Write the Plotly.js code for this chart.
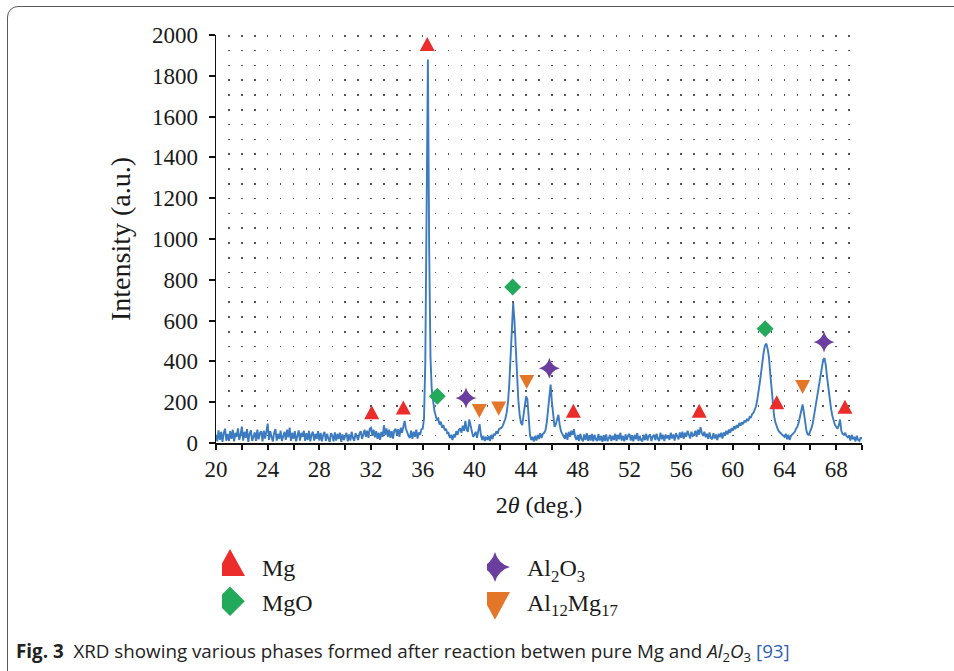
<!DOCTYPE html>
<html>
<head>
<meta charset="utf-8">
<script src="https://cdn.plot.ly/plotly-3.0.1.min.js"></script>
<style>
  html, body { margin: 0; padding: 0; background: #ffffff; }
  #chart { position: absolute; left: 0; top: 0; width: 954px; height: 671px; }
  #frame { position: absolute; left: 7px; top: 6px; width: 1000px; height: 720px;
           border: 1.5px solid #5a5a5a; border-radius: 11px; pointer-events: none; box-sizing: border-box; }
</style>
</head>
<body>
<div id="chart"></div>
<div id="frame"></div>
<script>
// ---- data ----
// XRD pattern sampled every 0.1 deg from 20.0 to 70.0 (one row per degree)
const thetaStart = 20;
const thetaStep = 0.1;
const intensity = [
  40, 8, 62, 15, 55, 5, 48, 70, 12, 45,     // 20
  10, 58, 20, 65, 8, 50, 30, 72, 15, 40,    // 21
  80, 12, 55, 25, 68, 6, 45, 62, 10, 38,    // 22
  52, 10, 66, 18, 48, 58, 8, 60, 22, 55,    // 23
  95, 15, 58, 30, 8, 50, 68, 12, 45, 20,    // 24
  60, 10, 40, 55, 15, 65, 28, 75, 10, 50,   // 25
  20, 58, 8, 45, 62, 12, 50, 30, 60, 10,    // 26
  48, 15, 60, 8, 42, 55, 12, 45, 20, 58,    // 27
  12, 50, 8, 40, 55, 10, 45, 22, 5, 48,     // 28
  38, 8, 52, 12, 45, 20, 50, 6, 42, 15,     // 29
  35, 50, 8, 42, 12, 55, 25, 10, 48, 30,    // 30
  15, 45, 58, 20, 50, 65, 30, 60, 25, 70,   // 31
  75, 35, 65, 28, 58, 20, 50, 15, 55, 30,   // 32
  88, 40, 72, 30, 65, 25, 58, 22, 62, 70,   // 33
  40, 68, 30, 75, 50, 85, 108, 70, 45, 35,  // 34
  25, 60, 20, 55, 30, 65, 22, 52, 40, 68,   // 35
  70, 120, 400, 1000, 1880, 950, 420, 260, 200, 160, // 36
  135, 115, 120, 90, 105, 75, 88, 62, 70, 48, // 37
  50, 25, 40, 15, 42, 28, 58, 40, 65, 72,   // 38
  50, 85, 60, 108, 65, 55, 115, 80, 45, 30, // 39
  40, 55, 25, 60, 92, 40, 15, 35, 10, 30,   // 40
  15, 35, 10, 40, 20, 45, 38, 58, 45, 68,   // 41
  70, 75, 85, 100, 120, 150, 200, 290, 440, 600, // 42
  686, 600, 450, 320, 210, 140, 100, 88, 130, 190, // 43
  228, 215, 110, 40, 15, 30, 8, 35, 12, 40, // 44
  20, 48, 25, 45, 50, 62, 100, 160, 240, 286, // 45
  200, 120, 80, 92, 110, 138, 90, 58, 45, 30, // 46
  20, 50, 15, 55, 30, 60, 40, 68, 30, 15,   // 47
  40, 10, 45, 20, 8, 42, 15, 48, 10, 38,    // 48
  12, 45, 8, 40, 18, 10, 44, 12, 35, 6,     // 49
  38, 10, 42, 8, 30, 40, 10, 36, 15, 45,    // 50
  10, 40, 18, 50, 12, 35, 8, 42, 15, 38,    // 51
  45, 12, 38, 8, 40, 18, 48, 10, 35, 15,    // 52
  8, 40, 15, 45, 12, 35, 42, 10, 32, 40,    // 53
  15, 45, 20, 10, 50, 18, 40, 10, 42, 22,   // 54
  38, 15, 50, 22, 42, 12, 48, 28, 18, 52,   // 55
  25, 55, 20, 50, 30, 60, 35, 22, 55, 35,   // 56
  40, 60, 30, 65, 40, 78, 50, 35, 55, 28,   // 57
  45, 20, 52, 25, 18, 48, 22, 42, 15, 45,   // 58
  28, 50, 22, 52, 35, 60, 42, 66, 50, 72,   // 59
  60, 82, 68, 88, 75, 98, 85, 102, 92, 110, // 60
  102, 118, 108, 128, 126, 142, 148, 168, 180, 215, // 61
  250, 300, 350, 410, 450, 480, 487, 460, 420, 340, // 62
  262, 190, 130, 100, 80, 65, 55, 48, 40, 35, // 63
  30, 45, 18, 40, 15, 35, 42, 50, 55, 70,   // 64
  80, 100, 130, 170, 189, 150, 100, 60, 42, 40, // 65
  60, 75, 100, 140, 180, 228, 270, 310, 350, 385, // 66
  410, 416, 380, 320, 260, 212, 170, 135, 110, 90, // 67
  80, 70, 85, 115, 60, 45, 40, 50, 35, 28,  // 68
  35, 12, 40, 18, 30, 8, 36, 15, 10, 28,    // 69
  20                                        // 70
];

// phase markers (2theta, intensity)
const mgX   = [32.05, 34.5, 36.35, 47.66, 57.4, 63.4, 68.68];
const mgY   = [139, 163, 1944, 147, 147, 188, 166];
const mgoX  = [37.13, 42.96, 62.5];
const mgoY  = [229, 765, 560];
const alOX  = [39.35, 45.8, 67.06];
const alOY  = [220, 367, 495];
const almgX = [40.38, 41.88, 44.05, 65.4];
const almgY = [168, 180, 310, 286];

const phaseNames = ['Mg', 'MgO', 'Al<sub>2</sub>O<sub>3</sub>', 'Al<sub>12</sub>Mg<sub>17</sub>'];

const xTickVals = [20,22,24,26,28,30,32,34,36,38,40,42,44,46,48,50,52,54,56,58,60,62,64,66,68,70];
const xTickText = ['20',' ','24',' ','28',' ','32',' ','36',' ','40',' ','44',' ','48',' ','52',' ','56',' ','60',' ','64',' ','68',' '];

// ---- styling ----
const SERIF = "'Liberation Serif', 'Times New Roman', serif";
const DOT = '1.5px,13.3px';
const COL = { mg: '#ec2b2b', mgo: '#22a95a', alo: '#6a3d9e', almg: '#e4762a', line: '#3c7bc0' };

const traces = [
  { type: 'scatter', mode: 'lines', x0: thetaStart, dx: thetaStep, y: intensity,
    line: { color: COL.line, width: 1.9 }, showlegend: false, hoverinfo: 'skip' },
  { type: 'scatter', mode: 'markers', x: mgX, y: mgY, name: phaseNames[0], legend: 'legend',
    marker: { symbol: 'triangle-up', size: 16, color: COL.mg }, cliponaxis: false },
  { type: 'scatter', mode: 'markers', x: mgoX, y: mgoY, name: phaseNames[1], legend: 'legend',
    marker: { symbol: 'diamond', size: 13, color: COL.mgo }, cliponaxis: false },
  { type: 'scatter', mode: 'markers', x: alOX, y: alOY, name: phaseNames[2], legend: 'legend2',
    marker: { symbol: 'star-diamond', size: 15, color: COL.alo }, cliponaxis: false },
  { type: 'scatter', mode: 'markers', x: almgX, y: almgY, name: phaseNames[3], legend: 'legend2',
    marker: { symbol: 'triangle-down', size: 16, color: COL.almg }, cliponaxis: false }
];

// plot area in pixels: x 216..862, y 35..443
const PL = 216, PW = 646, PB = 443, PH = 408;
const legendCommon = {
  xref: 'paper', yref: 'paper', xanchor: 'left', yanchor: 'top',
  bgcolor: 'rgba(0,0,0,0)', borderwidth: 0, font: { family: SERIF, size: 24, color: '#1a1a1a' },
  tracegroupgap: 0, itemclick: false, itemdoubleclick: false
};

const layout = {
  width: 954, height: 671,
  margin: { l: 216, r: 92, t: 35, b: 228 },
  paper_bgcolor: '#ffffff', plot_bgcolor: '#ffffff',
  showlegend: true,
  font: { family: SERIF, color: '#1a1a1a' },
  xaxis: {
    range: [20, 70], tickmode: 'array', tickvals: xTickVals, ticktext: xTickText,
    ticks: 'outside', ticklen: 5, tickwidth: 2, tickcolor: '#111',
    showline: true, linecolor: '#111', linewidth: 1.5, zeroline: false,
    showgrid: true, gridcolor: '#555', gridwidth: 1.5, griddash: DOT,
    minor: { dtick: 1, tick0: 20, showgrid: true, gridcolor: '#555', gridwidth: 1.5, griddash: DOT, ticks: '' },
    tickfont: { family: SERIF, size: 23, color: '#1a1a1a' },
    title: { text: '2<i>θ</i> (deg.)', font: { family: SERIF, size: 24, color: '#1a1a1a' }, standoff: 15 },
    automargin: false, fixedrange: true
  },
  yaxis: {
    range: [0, 2000], dtick: 200, tick0: 0,
    ticks: 'outside', ticklen: 6, tickwidth: 2, tickcolor: '#111',
    showline: true, linecolor: '#111', linewidth: 1.5, zeroline: false, showgrid: false,
    tickfont: { family: SERIF, size: 23, color: '#1a1a1a' },
    ticklabelstandoff: 6,
    title: { text: 'Intensity (a.u.)', font: { family: SERIF, size: 28, color: '#1a1a1a' }, standoff: 13 },
    automargin: false, fixedrange: true
  },
  legend: Object.assign({}, legendCommon, { x: (222 - PL) / PW, y: (PB - 545) / PH }),
  legend2: Object.assign({}, legendCommon, { x: (487 - PL) / PW, y: (PB - 545) / PH }),
  annotations: [{
    xref: 'paper', yref: 'paper', x: (14 - PL) / PW, y: (PB - 652) / PH,
    xanchor: 'left', yanchor: 'middle', showarrow: false, align: 'left',
    text: '<b>Fig. 3</b>\u00a0\u00a0XRD showing various phases formed after reaction betwen pure Mg and <i>Al</i><sub>2</sub><i>O</i><sub>3</sub> <span style="color:#2f5fb3">[93]</span>',
    font: { family: "'Open Sans', Roboto, sans-serif", size: 18.8, color: '#222' }
  }]
};

// the figure's triangles are equilateral; Plotly's are flatter, so reshape them
const plotSymbolScale = { 1: '0.81,1.17', 4: '0.81,1.17' };
const legendSymbolScale = { legend: ['1.62,2.25', '1.75,1.75'], legend2: ['1.43,1.43', '1.62,2.3'] };
function styleSymbols() {
  const traceGroups = document.querySelectorAll('#chart .scatterlayer .trace');
  traceGroups.forEach(function (tg, ti) {
    if (!plotSymbolScale[ti]) return;
    tg.querySelectorAll('path.point').forEach(function (p) {
      const t = (p.getAttribute('transform') || '').replace(/\s*scale\([^)]*\)/, '');
      p.setAttribute('transform', t + ' scale(' + plotSymbolScale[ti] + ')');
    });
  });
  Object.keys(legendSymbolScale).forEach(function (id) {
    const g = document.querySelector('#chart g.' + id);
    if (!g) return;
    g.querySelectorAll('g.traces').forEach(function (item, i) {
      const p = item.querySelector('path.scatterpts');
      if (p) p.setAttribute('transform', 'translate(8,0) scale(' + legendSymbolScale[id][i] + ')');
    });
  });
}

Plotly.newPlot('chart', traces, layout, { displayModeBar: false, staticPlot: true }).then(function (gd) {
  styleSymbols();
  gd.on('plotly_afterplot', styleSymbols);
});
</script>
</body>
</html>
